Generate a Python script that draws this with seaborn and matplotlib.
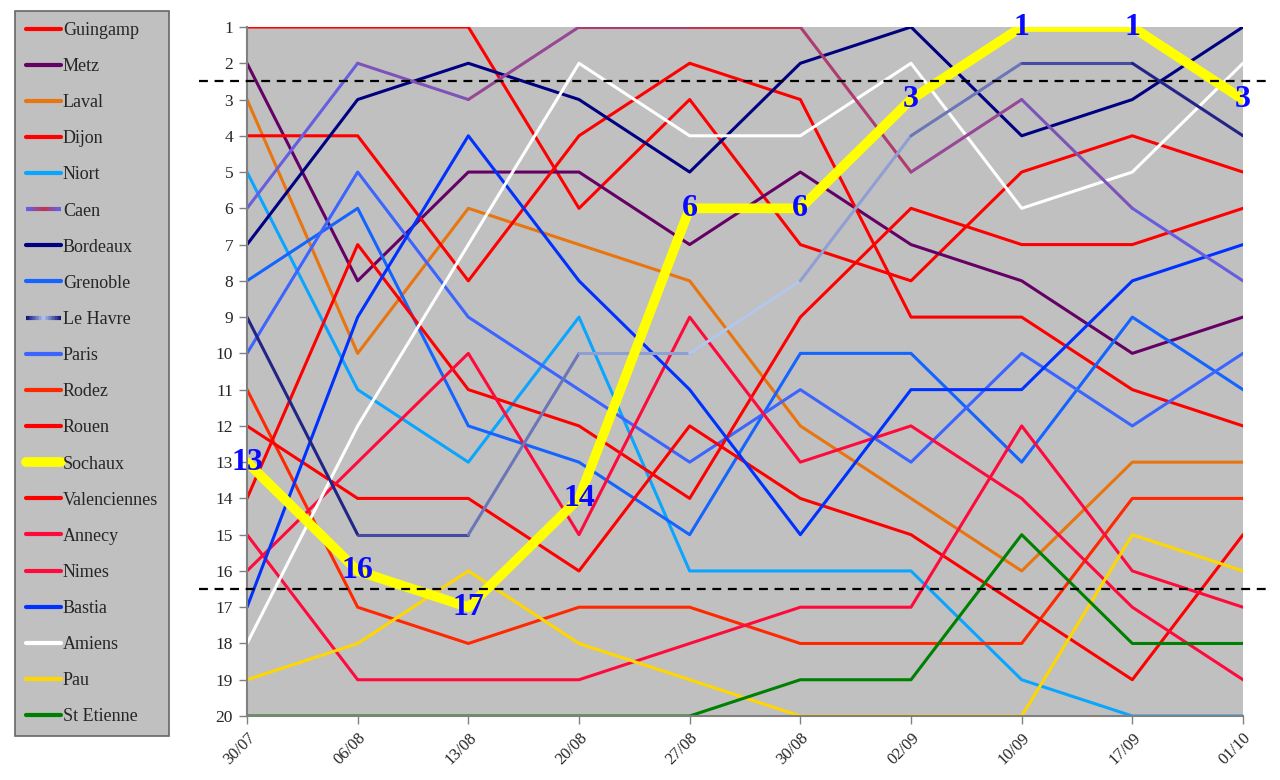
import numpy as np
import pandas as pd
import matplotlib
matplotlib.use("Agg")
import matplotlib.pyplot as plt
import seaborn as sns
from matplotlib.colors import LinearSegmentedColormap
from matplotlib.collections import LineCollection
from matplotlib.legend_handler import HandlerBase
from matplotlib.lines import Line2D


# -----------------------------
# Data: ranking per matchday
# -----------------------------
dates = ["30/07", "06/08", "13/08", "20/08", "27/08", "30/08", "02/09", "10/09", "17/09", "01/10"]

guingamp = [1, 1, 1, 6, 3, 7, 8, 5, 4, 5]
metz = [2, 8, 5, 5, 7, 5, 7, 8, 10, 9]
laval = [3, 10, 6, 7, 8, 12, 14, 16, 13, 13]
dijon = [4, 4, 8, 4, 2, 3, 9, 9, 11, 12]
niort = [5, 11, 13, 9, 16, 16, 16, 19, 20, 20]
caen = [6, 2, 3, 1, 1, 1, 5, 3, 6, 8]
bordeaux = [7, 3, 2, 3, 5, 2, 1, 4, 3, 1]
grenoble = [8, 6, 12, 13, 15, 10, 10, 13, 9, 11]
le_havre = [9, 15, 15, 10, 10, 8, 4, 2, 2, 4]
paris = [10, 5, 9, 11, 13, 11, 13, 10, 12, 10]
rodez = [11, 17, 18, 17, 17, 18, 18, 18, 14, 14]
rouen = [12, 14, 14, 16, 12, 14, 15, 17, 19, 15]
sochaux = [13, 16, 17, 14, 6, 6, 3, 1, 1, 3]
valenciennes = [14, 7, 11, 12, 14, 9, 6, 7, 7, 6]
annecy = [15, 19, 19, 19, 18, 17, 17, 12, 16, 17]
nimes = [16, 13, 10, 15, 9, 13, 12, 14, 17, 19]
bastia = [17, 9, 4, 8, 11, 15, 11, 11, 8, 7]
amiens = [18, 12, 7, 2, 4, 4, 2, 6, 5, 2]
pau = [19, 18, 16, 18, 19, 20, 20, 20, 15, 16]
st_etienne = [20, 20, 20, 20, 20, 19, 19, 15, 18, 18]

ranks = {
    "Guingamp": guingamp, "Metz": metz, "Laval": laval, "Dijon": dijon,
    "Niort": niort, "Caen": caen, "Bordeaux": bordeaux, "Grenoble": grenoble,
    "Le Havre": le_havre, "Paris": paris, "Rodez": rodez, "Rouen": rouen,
    "Sochaux": sochaux, "Valenciennes": valenciennes, "Annecy": annecy,
    "Nimes": nimes, "Bastia": bastia, "Amiens": amiens, "Pau": pau,
    "St Etienne": st_etienne,
}
teams = list(ranks.keys())

colors = {
    "Guingamp": "#ff0000", "Metz": "#650065", "Laval": "#e8750f", "Dijon": "#ff0000",
    "Niort": "#0aa5ff", "Bordeaux": "#000080", "Grenoble": "#1464ff",
    "Paris": "#3c64ff", "Rodez": "#ff2800", "Rouen": "#ff0000", "Sochaux": "#ffff00",
    "Valenciennes": "#ff0000", "Annecy": "#ff0a3c", "Nimes": "#ff0a3c",
    "Bastia": "#0032ff", "Amiens": "#ffffff", "Pau": "#ffd700", "St Etienne": "#008000",
}
gradients = {
    "Caen": LinearSegmentedColormap.from_list("caen", ["#5a64f0", "#c8304a", "#5a64f0"]),
    "Le Havre": LinearSegmentedColormap.from_list("havre", ["#10107a", "#b4c8ec", "#10107a"]),
}

# long table for seaborn
rows = []
for t in teams:
    for i, r in enumerate(ranks[t]):
        rows.append({"team": t, "x": i, "rank": r})
df = pd.DataFrame(rows)

# -----------------------------
# Figure
# -----------------------------
sns.set_style("white")
plt.rcParams["font.family"] = ["Liberation Serif", "DejaVu Serif"]

fig = plt.figure(figsize=(12.8, 7.8), dpi=100)
ax = fig.add_axes([247 / 1280, 1 - 716 / 780, 996 / 1280, 689 / 780])
ax.set_facecolor("#c0c0c0")

plain = [t for t in teams if t not in gradients and t != "Sochaux"]
sns.lineplot(
    data=df[df["team"].isin(plain)], x="x", y="rank", hue="team",
    hue_order=plain, palette=colors, linewidth=2.2, sort=False,
    estimator=None, legend=False, ax=ax,
)

# gradient coloured lines (Caen, Le Havre)
n = len(dates)
for t, cmap in gradients.items():
    vals = ranks[t]
    for i in range(n - 1):
        ax.plot([i, i + 1], vals[i:i + 2], color=cmap((i + 0.5) / (n - 1)),
                linewidth=2.2, solid_capstyle="round")

sns.lineplot(
    data=df[df["team"] == "Sochaux"], x="x", y="rank", color="#ffff00",
    linewidth=7, sort=False, estimator=None, legend=False, ax=ax,
)

# Sochaux rank labels
for i, r in enumerate(sochaux):
    ax.text(i, r, str(r), color="#0a0aff", fontsize=23, fontweight="bold",
            family="Liberation Serif", ha="center", va="center", zorder=10)

# promotion / relegation lines
trans = ax.get_yaxis_transform()
for yv in (2.5, 16.5):
    ax.plot([-0.048, 1.028], [yv, yv], transform=trans, color="black",
            linestyle=(0, (4, 3)), linewidth=1.6, clip_on=False, zorder=9)

ax.set_xlim(0, n - 1)
ax.set_ylim(20, 1)
ax.set_yticks(range(1, 21))
ax.set_yticklabels([str(v) for v in range(1, 21)], fontsize=12.5)
ax.set_xticks(range(n))
ax.set_xticklabels(dates, rotation=45, ha="right", rotation_mode="anchor", fontsize=12)
ax.set_xlabel("")
ax.set_ylabel("")
for s in ("top", "right"):
    ax.spines[s].set_visible(False)
for s in ("left", "bottom"):
    ax.spines[s].set_color("#808080")
    ax.spines[s].set_linewidth(1.5)
ax.tick_params(axis="both", which="both", length=6, width=1, color="#808080",
               direction="out", left=True, bottom=True, pad=4)


# -----------------------------
# Legend
# -----------------------------
class GradientHandler(HandlerBase):
    def __init__(self, cmap):
        super().__init__()
        self.cmap = cmap

    def create_artists(self, legend, orig_handle, xdescent, ydescent,
                       width, height, fontsize, trans):
        k = 24
        xs = [-xdescent + width * j / k for j in range(k + 1)]
        y = height / 2 - ydescent
        segs = [[(xs[j], y), (xs[j + 1], y)] for j in range(k)]
        cols = [self.cmap(j / (k - 1)) for j in range(k)]
        lc = LineCollection(segs, colors=cols, linewidth=3, transform=trans)
        return [lc]


handles = []
handler_map = {}
for t in teams:
    if t in gradients:
        h = Line2D([], [], color="grey")
        handler_map[h] = GradientHandler(gradients[t])
    elif t == "Sochaux":
        h = Line2D([], [], color="#ffff00", linewidth=7, solid_capstyle="round")
    else:
        h = Line2D([], [], color=colors[t], linewidth=3)
    handles.append(h)

leg = fig.legend(
    handles, teams, loc="upper left", bbox_to_anchor=(15 / 1280, 1 - 11 / 780),
    bbox_transform=fig.transFigure, borderaxespad=0, frameon=True,
    fontsize=13, labelspacing=1.06, handlelength=1.95, handletextpad=0.1,
    borderpad=0.6, fancybox=False, handler_map=handler_map,
)
leg.get_frame().set_facecolor("#c0c0c0")
leg.get_frame().set_edgecolor("#666666")
leg.get_frame().set_linewidth(1.2)
leg.get_frame().set_alpha(1)

fig.savefig("out.png", dpi=100, facecolor="white")
